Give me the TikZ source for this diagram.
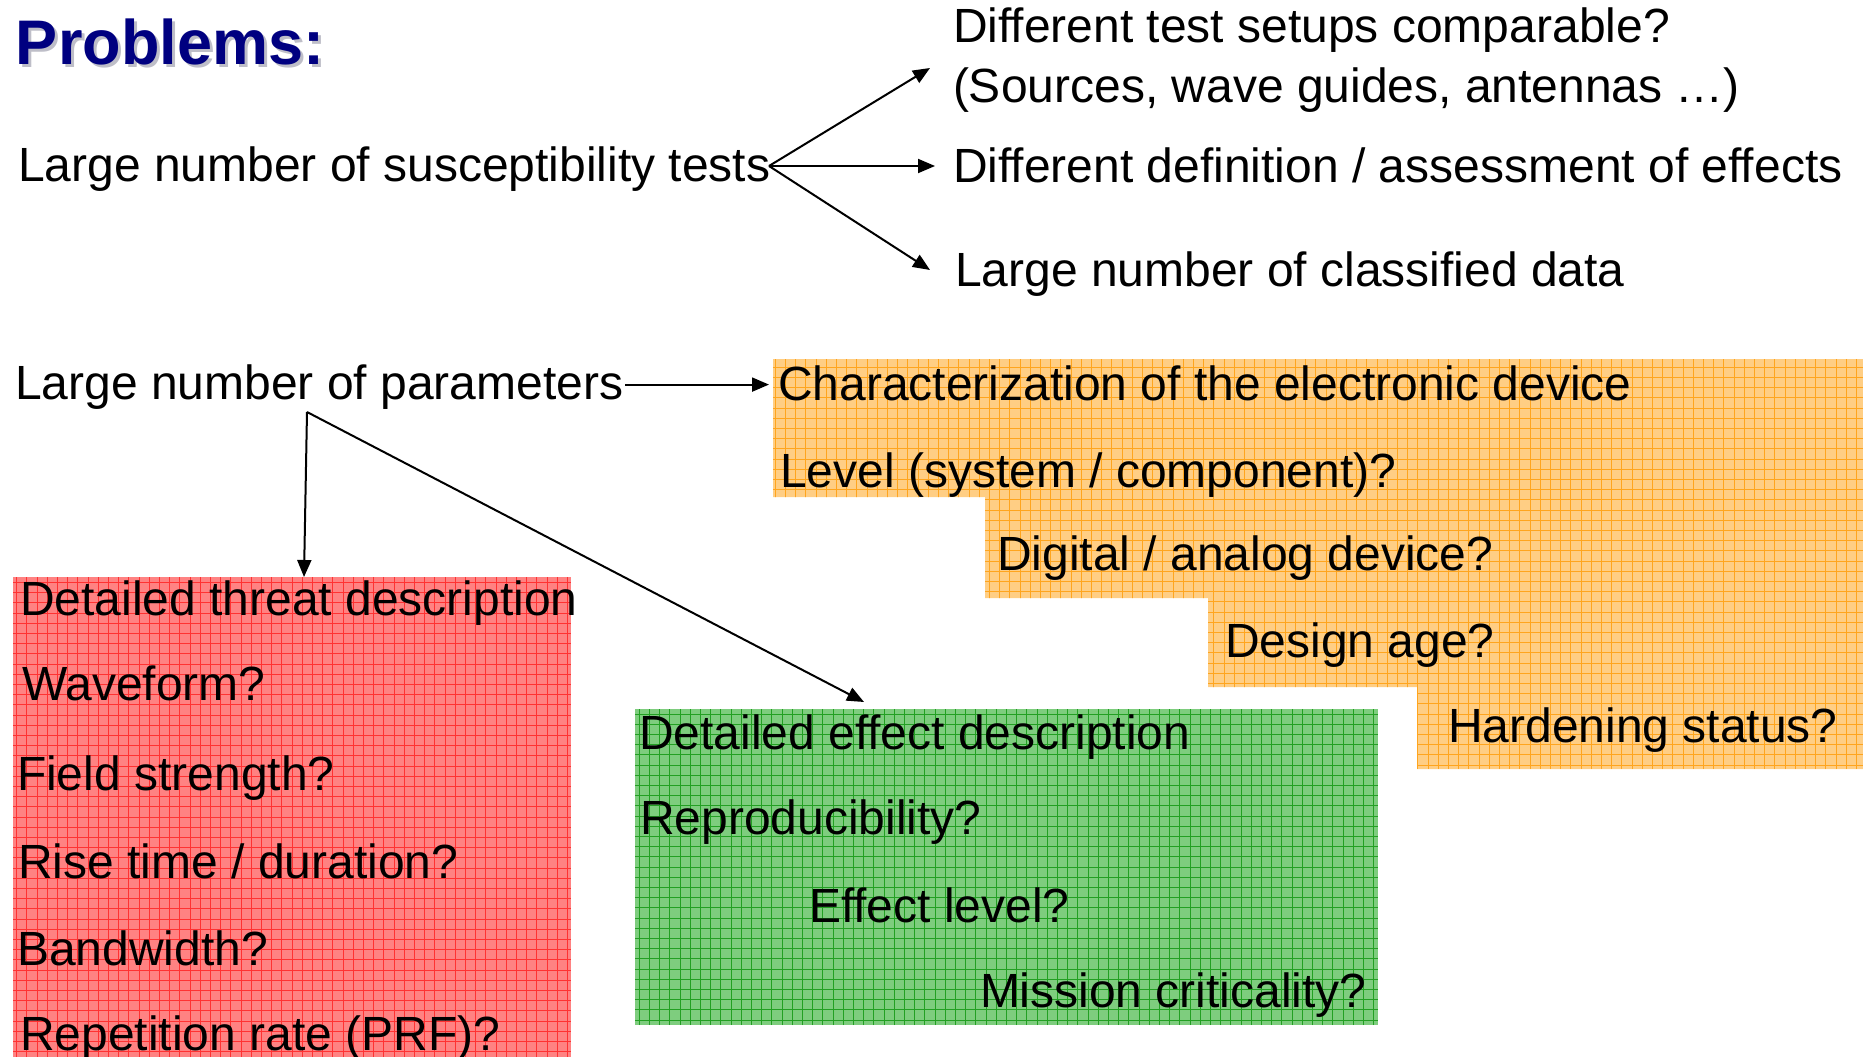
\documentclass[tikz,border=0pt]{standalone}
\usepackage{fontspec}
\setmainfont{Liberation Sans}
\usetikzlibrary{arrows.meta}

\definecolor{titleblue}{RGB}{0,0,128}
\definecolor{titleshade}{RGB}{190,190,200}
\definecolor{redfill}{RGB}{255,130,130}
\definecolor{redline}{RGB}{255,50,50}
\definecolor{greenfill}{RGB}{126,205,126}
\definecolor{greenline}{RGB}{35,160,35}
\definecolor{orangefill}{RGB}{255,206,132}
\definecolor{orangeline}{RGB}{255,165,30}

\begin{document}
\begin{tikzpicture}[x=1pt,y=-1pt,
  txt/.style={anchor=base west, inner sep=0pt, outer sep=0pt,
              font=\fontsize{48}{58}\selectfont},
  headline/.style={anchor=base west, inner sep=0pt, outer sep=0pt,
              font=\fontsize{63}{75}\selectfont\bfseries},
  arr/.style={line width=2pt, -{Triangle[length=17pt,width=14pt]}},
  gridbox/.style 2 args={fill=#1, path picture={
      \draw[#2, line width=0.95pt, step=10.2pt]
        (path picture bounding box.south west) grid
        (path picture bounding box.north east);}},
  panel/.style={anchor=north west, inner sep=0pt, outer sep=0pt},
]
\useasboundingbox (0,0) rectangle (1863,1057);

% heading with a soft drop shadow
\node[headline, text=titleshade] (titleshadow) at (19,67) {Problems:};
\node[headline, text=titleblue] (title) at (16,64) {Problems:};

% --- test results branch ---
\node[txt] (tests) at (18,181) {Large number of susceptibility tests};
\node[txt] (setupsA) at (953,43) {Different test setups comparable?};
\node[txt] (setupsB) at (953,102) {(Sources, wave guides, antennas …)};
\node[txt] (defin) at (953,182) {Different definition / assessment of effects};
\node[txt] (classif) at (955,286) {Large number of classified data};

\coordinate (tfork) at (769,166);
\coordinate (setupsTip) at (930,68);
\coordinate (classTip) at (930,270);
\draw[arr] (tfork) -- (setupsTip);
\draw[arr] (tfork) -- ([xshift=-18pt]defin.west |- tfork);
\draw[arr] (tfork) -- (classTip);

% --- device characterization (staircase panel) ---
\path[gridbox={orangefill}{orangeline}]
  (773,359) -- (1863,359) -- (1863,769) -- (1417,769) -- (1417,687)
  -- (1208,687) -- (1208,598) -- (985,598) -- (985,497) -- (773,497) -- cycle;
\node[txt] (charac) at (778,400) {Characterization of the electronic device};
\node[txt] (level) at (780,487) {Level (system / component)?};
\node[txt] (digital) at (997,570) {Digital / analog device?};
\node[txt] (design) at (1225,657) {Design age?};
\node[txt] (harden) at (1448,742) {Hardening status?};

% --- parameters branch ---
\node[txt] (params) at (15,399) {Large number of parameters};
\draw[arr] ([xshift=2pt,yshift=2pt]params.east) -- ([xshift=-9pt,yshift=2pt]charac.west |- params.east);

% threat panel
\node[panel, gridbox={redfill}{redline}, minimum width=558pt, minimum height=480pt]
  (threat) at (13,577) {};
\node[txt] (threatA) at (20,615) {Detailed threat description};
\node[txt] (threatB) at (22,700) {Waveform?};
\node[txt] (threatC) at (17,790) {Field strength?};
\node[txt] (threatD) at (18,878) {Rise time / duration?};
\node[txt] (threatE) at (17,965) {Bandwidth?};
\node[txt] (threatF) at (20,1050) {Repetition rate (PRF)?};

% effect panel
\node[panel, gridbox={greenfill}{greenline}, minimum width=743pt, minimum height=316pt]
  (effect) at (635,709) {};
\node[txt] (effectA) at (639,749) {Detailed effect description};
\node[txt] (effectB) at (640,834) {Reproducibility?};
\node[txt] (effectC) at (809,922) {Effect level?};
\node[txt] (effectD) at (980,1007) {Mission criticality?};

\coordinate (pfork) at (307,412);
\draw[arr] (pfork) -- ([xshift=291pt]threat.north west);
\draw[arr] (pfork) -- ([xshift=229pt,yshift=7pt]effect.north west);
\end{tikzpicture}
\end{document}
